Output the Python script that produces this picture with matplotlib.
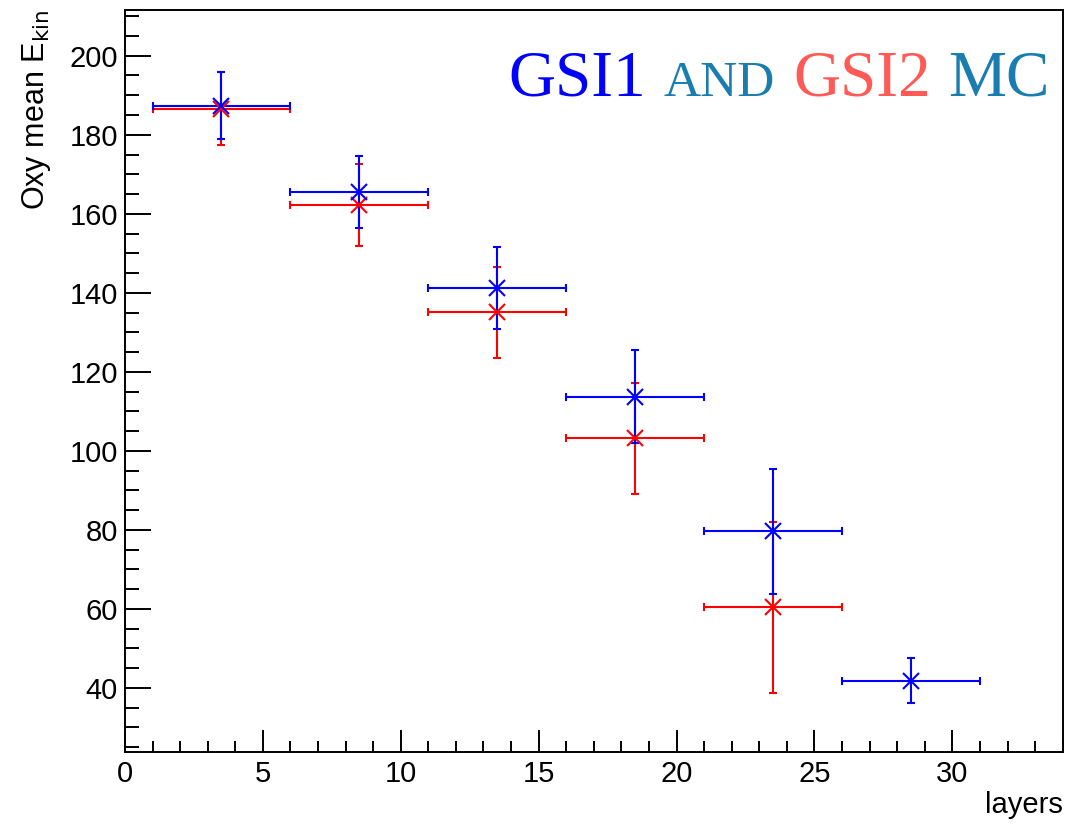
import numpy as np
import matplotlib
matplotlib.use("Agg")
import matplotlib.pyplot as plt
from matplotlib.ticker import MultipleLocator

# layer bins (centre, half-width)
layers = [3.5, 8.5, 13.5, 18.5, 23.5, 28.5]
layer_halfwidth = 2.5

gsi1_mean = [187.4, 165.6, 141.2, 113.7, 79.6, 41.8]
gsi1_err = [8.5, 9.1, 10.3, 11.8, 15.8, 5.7]

gsi2_layers = [3.5, 8.5, 13.5, 18.5, 23.5]
gsi2_mean = [186.6, 162.3, 135.1, 103.2, 60.4]
gsi2_err = [9.3, 10.4, 11.5, 14.1, 21.7]

plt.rcParams['font.family'] = ['Liberation Sans', 'DejaVu Sans']


def main():
    fig = plt.figure(figsize=(10.68, 8.24), dpi=100)
    ax = fig.add_axes([0.117, 0.0874, 0.878, 0.9006])

    for x, y, yerr, col in [(gsi2_layers, gsi2_mean, gsi2_err, "#ff0000"),
                            (layers, gsi1_mean, gsi1_err, "#0000ff")]:
        ax.errorbar(x, y, xerr=layer_halfwidth, yerr=yerr, fmt="x", color=col,
                    ms=11, mew=1.5, elinewidth=1.5, capsize=3, capthick=1.5)

    ax.set_xlim(0, 34)
    ax.set_ylim(23.8, 211.6)
    ax.xaxis.set_major_locator(MultipleLocator(5))
    ax.xaxis.set_minor_locator(MultipleLocator(1))
    ax.yaxis.set_major_locator(MultipleLocator(20))
    ax.yaxis.set_minor_locator(MultipleLocator(5))
    ax.tick_params(which="both", direction="in", top=False, right=False,
                   labelsize=21, width=1.4)
    ax.tick_params(axis="x", which="major", length=16, pad=6)
    ax.tick_params(axis="x", which="minor", length=8)
    ax.tick_params(axis="y", which="major", length=19, pad=5)
    ax.tick_params(axis="y", which="minor", length=10)
    for sp in ax.spines.values():
        sp.set_linewidth(1.4)

    ax.set_xlabel("layers", fontsize=21, loc="right", labelpad=2)
    ax.set_ylabel(r"Oxy mean E$_{\mathrm{kin}}$", fontsize=22, loc="top",
                  labelpad=12)

    # coloured title made of pieces, right-aligned inside the frame
    pieces = [("GSI1", "#0000ff", 47), ("AND", "#1a7db0", 37),
              ("GSI2", "#ff5a55", 47), ("MC", "#1a7db0", 47)]
    gap = 18
    right = 1050
    ybase = 1 - 96 / 824
    renderer = fig.canvas.get_renderer()
    texts = [fig.text(0, ybase, txt, color=col, fontsize=size,
                      family="Liberation Serif", va="baseline", ha="left")
             for txt, col, size in pieces]
    widths = [t.get_window_extent(renderer).width for t in texts]
    x0 = right - sum(widths) - gap * (len(widths) - 1)
    for t, w in zip(texts, widths):
        t.set_x(x0 / 1068)
        x0 += w + gap

    fig.savefig("out.png", dpi=100)


if __name__ == '__main__':
    main()
